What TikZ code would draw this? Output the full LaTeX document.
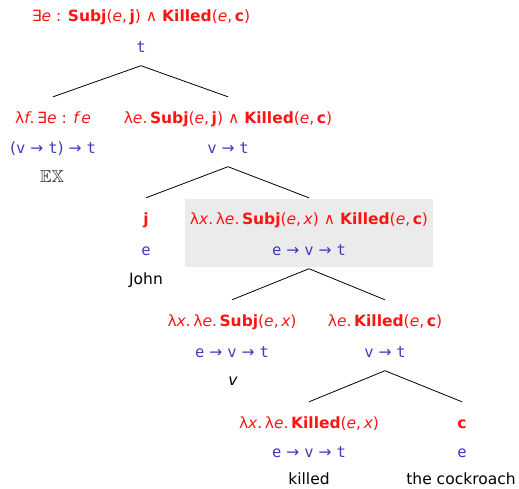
\documentclass[tikz,border=0pt]{standalone}
\usepackage{amssymb}
\usepackage{fontspec}
\setmainfont{DejaVu Sans}
\newfontfamily\tyf{DejaVu Sans Mono}
\definecolor{semred}{RGB}{255,20,20}
\definecolor{typblue}{RGB}{60,60,190}
\definecolor{boxgray}{RGB}{235,235,235}
\newcommand{\vi}[1]{{\itshape #1}}
\newcommand{\T}[1]{{\tyf #1}}
\begin{document}
\begin{tikzpicture}[x=1pt,y=-1pt, font=\fontsize{15.5}{19}\selectfont,
 sem/.style={text=semred, anchor=base, text height=13pt, inner ysep=13pt, inner xsep=0pt},
 typ/.style={text=typblue, anchor=base, text depth=0pt, inner ysep=13.5pt, inner xsep=0pt},
 word/.style={anchor=base, inner sep=0pt},
 branch/.style={draw=black, line width=0.8pt}]
\useasboundingbox (0,0) rectangle (519,488);
\fill[boxgray] (185,199) rectangle (433,267);
% level 0
\node[sem] (f0) at (141,21) {∃\vi{e} : \textbf{Subj}(\vi{e},\,\textbf{j}) ∧ \textbf{Killed}(\vi{e},\,\textbf{c})};
\node[typ] (t0) at (141,52) {\T{t}};
% level 1
\node[sem] (f1a) at (53,123) {λ\vi{f}.\,∃\vi{e} : \vi{f}\,\vi{e}};
\node[typ] (t1a) at (53,153) {(\T{v} → \T{t}) → \T{t}};
\node[word, text=black!85, font=\fontsize{17.28}{20}\selectfont] (w1a) at (52,182) {$\mathbb{EX}$};
\node[sem] (f1b) at (228,123) {λ\vi{e}.\,\textbf{Subj}(\vi{e},\,\textbf{j}) ∧ \textbf{Killed}(\vi{e},\,\textbf{c})};
\node[typ] (t1b) at (228,153) {\T{v} → \T{t}};
% level 2
\node[sem] (f2a) at (146,224) {\textbf{j}};
\node[typ] (t2a) at (146,255) {\T{e}};
\node[word] (w2a) at (146,284) {John};
\node[sem] (f2b) at (309,224) {λ\vi{x}.\,λ\vi{e}.\,\textbf{Subj}(\vi{e},\,\vi{x}) ∧ \textbf{Killed}(\vi{e},\,\textbf{c})};
\node[typ] (t2b) at (309,255) {\T{e} → \T{v} → \T{t}};
% level 3
\node[sem] (f3a) at (232,326) {λ\vi{x}.\,λ\vi{e}.\,\textbf{Subj}(\vi{e},\,\vi{x})};
\node[typ] (t3a) at (232,357) {\T{e} → \T{v} → \T{t}};
\node[word] (w3a) at (233,385) {\vi{v}};
\node[sem] (f3b) at (385,326) {λ\vi{e}.\,\textbf{Killed}(\vi{e},\,\textbf{c})};
\node[typ] (t3b) at (385,357) {\T{v} → \T{t}};
% level 4
\node[sem] (f4a) at (309,428) {λ\vi{x}.\,λ\vi{e}.\,\textbf{Killed}(\vi{e},\,\vi{x})};
\node[typ] (t4a) at (309,457) {\T{e} → \T{v} → \T{t}};
\node[word] (w4a) at (309,484) {killed};
\node[sem] (f4b) at (462,428) {\textbf{c}};
\node[typ] (t4b) at (462,457) {\T{e}};
\node[word] (w4b) at (461,484) {the cockroach};
% branches
\draw[branch] (f1a.north) -- (t0.south) -- (f1b.north);
\draw[branch] (f2a.north) -- (t1b.south) -- (f2b.north);
\draw[branch] (f3a.north) -- (t2b.south) -- (f3b.north);
\draw[branch] (f4a.north) -- (t3b.south) -- (f4b.north);
\end{tikzpicture}
\end{document}
